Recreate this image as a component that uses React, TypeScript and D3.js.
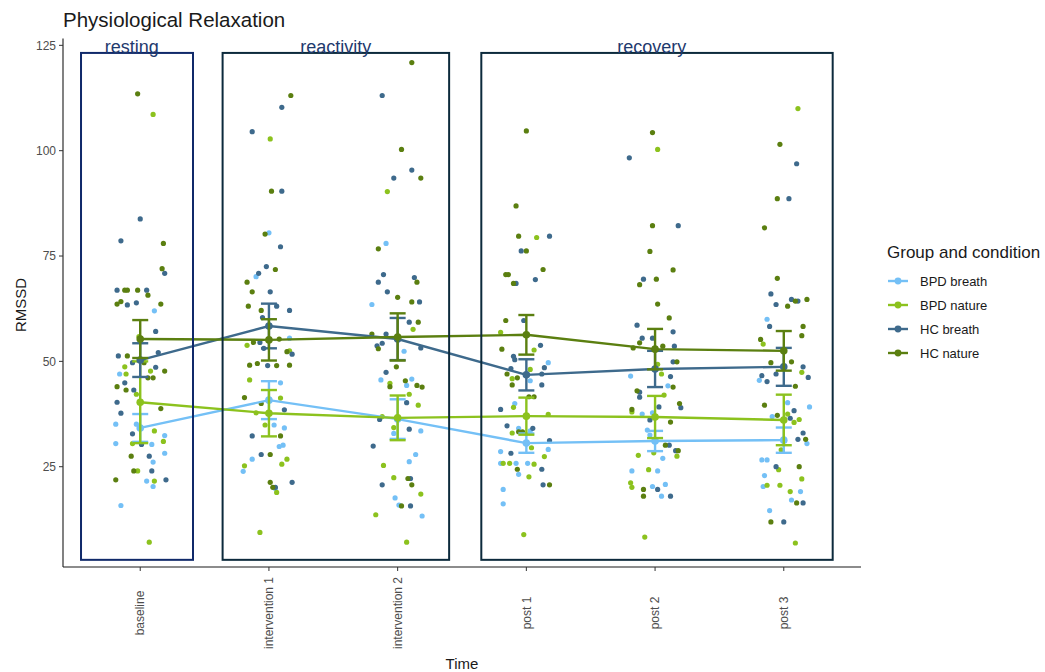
import React from 'react';
import * as d3 from 'd3';

// time points on the x axis
const times = ['baseline', 'intervention 1', 'intervention 2', 'post 1', 'post 2', 'post 3'];
const yTicks = [25, 50, 75, 100, 125];

const groupNames = ['BPD breath', 'BPD nature', 'HC breath', 'HC nature'];
const groupColors = ['#74c0f6', '#8cc21e', '#3e6a8c', '#5b7f10'];

// jittered raw values: [time index, jitter (band units), RMSSD]
const bpdBreathPts = [
  [0, 0.11, 62], [0, -0.16, 47], [0, -0.19, 35.1], [0, -0.03, 35.1], [0, 0.19, 32.4], [0, -0.19, 30.5], [0, 0.09, 30.3], [0, 0.19, 28.2], [0, 0.1, 26.1], [0, 0.05, 21.6], [0, 0.1, 20.3], [0, -0.15, 15.8],
  [1, 0.0, 80.5], [1, -0.1, 70.1], [1, 0.16, 55.5], [1, 0.09, 44.9], [1, 0.04, 34.9], [1, 0.12, 34.2], [1, 0.08, 29.8], [1, 0.11, 30.1], [1, -0.13, 26.8], [1, -0.2, 23.9], [1, 0.05, 19.8],
  [2, -0.09, 78], [2, -0.2, 63.5], [2, 0.05, 52.4], [2, -0.13, 45.6], [2, 0.11, 45.8], [2, 0.07, 44.3], [2, -0.03, 32.9], [2, 0.18, 33.5], [2, 0.14, 27.9], [2, 0.09, 26.2], [2, -0.02, 17.6], [2, 0.01, 15.9], [2, 0.19, 13.3],
  [3, 0.17, 49.7], [3, 0.03, 45.4], [3, -0.09, 40], [3, -0.06, 34.1], [3, 0.03, 33.5], [3, 0.17, 29.1], [3, -0.2, 28.6], [3, -0.2, 25.8], [3, -0.08, 25.8], [3, 0.01, 25.8], [3, -0.06, 23.2], [3, -0.18, 19.6], [3, -0.18, 16.2],
  [4, -0.19, 46.5], [4, 0.1, 44.2], [4, -0.1, 37.5], [4, -0.02, 37.8], [4, -0.06, 33.7], [4, -0.04, 32.5], [4, 0.06, 27], [4, -0.18, 24], [4, 0.02, 24], [4, -0.02, 20.3], [4, 0.08, 20.8], [4, 0.05, 18],
  [5, -0.13, 60], [5, -0.19, 45.5], [5, 0.03, 40.2], [5, 0.2, 39.2], [5, -0.09, 36.9], [5, 0.18, 30.5], [5, -0.17, 26.6], [5, -0.13, 26.6], [5, -0.15, 22.9], [5, -0.16, 20.3], [5, 0.13, 19.1], [5, 0.06, 17.1], [5, -0.11, 14.6],
];
const bpdNaturePts = [
  [0, 0.1, 108.6], [0, -0.01, 55.9], [0, -0.12, 48.7], [0, -0.11, 47], [0, 0.08, 47.7], [0, -0.03, 42.2], [0, 0.11, 33.5], [0, 0.18, 31], [0, -0.06, 30.5], [0, -0.02, 24], [0, 0.11, 21.6], [0, 0.07, 7.1],
  [1, 0.01, 102.8], [1, -0.17, 53.8], [1, 0.16, 52.5], [1, -0.15, 45.6], [1, 0.09, 41.3], [1, -0.1, 37.8], [1, -0.03, 34.9], [1, 0.14, 26.8], [1, 0.1, 25.6], [1, -0.19, 25.2], [1, 0.06, 18.9], [1, -0.07, 9.4],
  [2, -0.08, 90.3], [2, 0.12, 57.6], [2, -0.06, 44.8], [2, 0.09, 42.2], [2, 0.16, 39.6], [2, -0.12, 36.9], [2, -0.03, 34.3], [2, -0.11, 25.3], [2, -0.03, 22.4], [2, 0.18, 18.5], [2, -0.17, 13.6], [2, 0.07, 7.1],
  [3, 0.08, 79.4], [3, -0.2, 56.9], [3, 0.06, 52.7], [3, 0.03, 48.1], [3, -0.11, 45.9], [3, -0.1, 39.1], [3, 0.17, 37.4], [3, -0.11, 33], [3, 0.04, 29.5], [3, 0.14, 27.4], [3, -0.18, 25.8], [3, -0.13, 25.8], [3, 0.06, 25.6], [3, 0.02, 22.6], [3, -0.02, 8.9],
  [4, 0.02, 100.3], [4, 0.02, 49.3], [4, 0.05, 47], [4, 0.07, 42], [4, -0.18, 38], [4, 0.17, 27.5], [4, -0.13, 27.7], [4, -0.01, 28.3], [4, -0.05, 24.3], [4, -0.19, 21.2], [4, -0.18, 20.1], [4, -0.08, 8.3],
  [5, 0.11, 110], [5, -0.16, 54.1], [5, 0.14, 47.4], [5, 0.03, 37.5], [5, 0.08, 35.5], [5, 0.12, 36.2], [5, -0.02, 29], [5, -0.04, 24.3], [5, 0.14, 22.1], [5, -0.13, 20.6], [5, -0.03, 20.6], [5, 0.05, 19.1], [5, 0.09, 6.9],
];
const hcBreathPts = [
  [0, 0.0, 83.8], [0, -0.15, 78.6], [0, 0.19, 70.9], [0, -0.18, 66.9], [0, 0.05, 66.9], [0, -0.1, 63.4], [0, -0.03, 63.9], [0, 0.12, 57.1], [0, -0.17, 51.3], [0, 0.14, 52.1], [0, -0.06, 49.7], [0, 0.12, 48.6], [0, -0.12, 44.9], [0, -0.05, 43.2], [0, -0.18, 40.3], [0, -0.15, 37.7], [0, -0.06, 32.8], [0, 0.01, 30.3], [0, 0.07, 27.5], [0, 0.09, 24], [0, 0.2, 21.9],
  [1, 0.1, 110.3], [1, -0.13, 104.5], [1, 0.1, 90.4], [1, 0.09, 77.2], [1, -0.02, 72.5], [1, -0.08, 70.9], [1, 0.01, 66.5], [1, 0.06, 63.1], [1, 0.16, 62.1], [1, -0.05, 60.4], [1, -0.07, 54.5], [1, -0.04, 53.1], [1, 0.18, 51.7], [1, -0.01, 49], [1, 0.12, 38.5], [1, -0.13, 32.3], [1, -0.06, 27.9], [1, 0.18, 21.3], [1, 0.05, 20.1],
  [2, -0.12, 113.1], [2, 0.11, 95.4], [2, -0.03, 93.5], [2, -0.11, 70.6], [2, -0.15, 68.8], [2, 0.13, 69.9], [2, -0.08, 66.5], [2, 0.17, 64.1], [2, 0.09, 59.3], [2, -0.09, 56.5], [2, -0.16, 53.7], [2, -0.12, 54.3], [2, 0.18, 53.2], [2, -0.09, 47.4], [2, 0.07, 40.2], [2, -0.14, 36.2], [2, 0.09, 33.9], [2, -0.19, 29.9], [2, 0.1, 22.2], [2, -0.12, 20.7], [2, 0.1, 15.7],
  [3, 0.18, 79.7], [3, -0.04, 76.2], [3, -0.08, 68.5], [3, 0.07, 69.4], [3, -0.02, 59.7], [3, 0.11, 53.8], [3, -0.1, 51.2], [3, -0.09, 50.4], [3, 0.14, 48.5], [3, -0.12, 48.3], [3, 0.12, 47], [3, 0.12, 44.4], [3, -0.2, 38.6], [3, -0.15, 34.7], [3, 0.05, 34.1], [3, 0.18, 31.2], [3, -0.12, 28.2], [3, 0.12, 24.4], [3, 0.13, 20.7],
  [4, -0.2, 98.3], [4, 0.18, 82.2], [4, -0.09, 69.5], [4, -0.14, 58.6], [4, 0.14, 57], [4, -0.1, 55.5], [4, -0.02, 55.5], [4, 0.15, 53.6], [4, 0.14, 49.9], [4, 0.12, 46.4], [4, -0.12, 42.7], [4, -0.12, 41.5], [4, 0.2, 39], [4, 0.03, 39.2], [4, -0.04, 36.1], [4, 0.11, 30.1], [4, 0.16, 28.8], [4, 0.02, 19.6], [4, 0.12, 18],
  [5, 0.1, 96.9], [5, 0.04, 88.6], [5, -0.1, 66], [5, -0.06, 63.5], [5, 0.06, 64.7], [5, 0.11, 64.3], [5, -0.11, 58.3], [5, 0.15, 48.7], [5, -0.17, 46.6], [5, -0.06, 47], [5, -0.13, 45.2], [5, 0.19, 46.2], [5, 0.08, 38.3], [5, 0.05, 36.5], [5, 0.15, 33], [5, 0.11, 31.5], [5, -0.06, 25], [5, 0.15, 16.4], [5, 0.0, 11.9],
];
const hcNaturePts = [
  [0, -0.02, 113.5], [0, 0.18, 78], [0, 0.17, 72], [0, -0.12, 66.9], [0, -0.1, 66.9], [0, -0.02, 66.9], [0, 0.06, 65.7], [0, -0.18, 63.6], [0, -0.15, 64.2], [0, 0.16, 63.6], [0, -0.1, 51.3], [0, 0.03, 49.7], [0, 0.19, 47.7], [0, 0.06, 46.1], [0, 0.1, 46.1], [0, -0.18, 44], [0, -0.11, 43.2], [0, 0.16, 38.8], [0, -0.07, 27.5], [0, -0.05, 24], [0, -0.19, 21.9],
  [1, 0.17, 113.1], [1, 0.02, 90.4], [1, -0.03, 80.2], [1, 0.05, 71.8], [1, -0.17, 68.8], [1, -0.13, 66.5], [1, -0.16, 63.1], [1, -0.06, 62.1], [1, -0.12, 54.5], [1, 0.08, 55.3], [1, 0.14, 52.3], [1, -0.15, 49.1], [1, -0.09, 49.5], [1, 0.06, 49], [1, 0.16, 49.1], [1, -0.19, 41.4], [1, -0.06, 40], [1, 0.09, 32.3], [1, 0.01, 27.9], [1, 0.01, 21.3], [1, 0.03, 20.1],
  [2, 0.11, 120.9], [2, 0.03, 100.3], [2, 0.18, 93.5], [2, -0.15, 76.7], [2, 0.15, 68.8], [2, 0.0, 65.2], [2, 0.11, 64.1], [2, 0.16, 59.3], [2, -0.2, 56.5], [2, -0.15, 53], [2, -0.01, 48.7], [2, -0.06, 44], [2, 0.06, 45.4], [2, 0.15, 44.3], [2, 0.19, 43.9], [2, 0.08, 22.2], [2, 0.11, 20.7], [2, 0.03, 15.7],
  [3, 0.0, 104.7], [3, -0.08, 86.9], [3, -0.06, 79.7], [3, 0.0, 76.2], [3, -0.16, 70.6], [3, -0.14, 70.6], [3, -0.1, 68.5], [3, 0.13, 71.8], [3, -0.16, 59.7], [3, -0.19, 52.9], [3, -0.15, 47], [3, -0.07, 46.1], [3, -0.11, 44.4], [3, 0.06, 41.6], [3, 0.02, 41.6], [3, -0.06, 33.3], [3, -0.03, 33.3], [3, -0.07, 24.4], [3, 0.18, 20.7],
  [4, -0.02, 104.3], [4, -0.02, 82.2], [4, -0.04, 76.1], [4, 0.14, 71.7], [4, 0.01, 69.5], [4, -0.12, 68.2], [4, 0.02, 63.6], [4, 0.11, 60.3], [4, -0.12, 54.4], [4, -0.17, 53.2], [4, 0.06, 53.6], [4, 0.17, 49.9], [4, 0.14, 43.9], [4, -0.14, 43], [4, 0.19, 40], [4, -0.18, 38.6], [4, 0.12, 35.6], [4, 0.08, 30.1], [4, 0.18, 28.8], [4, -0.09, 19.6], [4, -0.09, 18],
  [5, -0.03, 101.5], [5, -0.05, 88.6], [5, -0.15, 81.7], [5, -0.05, 69.7], [5, 0.09, 64.3], [5, 0.18, 64.7], [5, 0.03, 63.1], [5, 0.15, 58.3], [5, 0.14, 56.1], [5, -0.18, 55.2], [5, -0.1, 49.7], [5, 0.06, 49.9], [5, 0.09, 44.1], [5, -0.15, 39.6], [5, -0.05, 37.2], [5, 0.17, 31.5], [5, 0.12, 25], [5, 0.1, 16.4], [5, -0.1, 11.9],
];

// group means and standard errors per time point
const bpdBreathMean = [34.2, 40.8, 36.3, 30.6, 31.1, 31.3];
const bpdBreathSe = [3.3, 4.5, 4.7, 2.3, 2.4, 3.0];
const bpdNatureMean = [40.3, 37.7, 36.6, 37.0, 36.8, 36.1];
const bpdNatureSe = [9.7, 5.5, 5.3, 4.4, 5.0, 6.0];
const hcBreathMean = [50.3, 58.4, 55.3, 46.8, 48.2, 48.7];
const hcBreathSe = [4.0, 5.3, 5.0, 3.7, 4.3, 4.5];
const hcNatureMean = [55.3, 55.1, 55.8, 56.3, 52.9, 52.5];
const hcNatureSe = [4.5, 4.9, 5.6, 4.7, 4.8, 4.7];

// phase boxes: label, first/last time index with padding (band units), top/bottom value
const phaseNames = ['resting', 'reactivity', 'recovery'];
const phaseFrom = [[0, -0.46], [1, -0.36], [3, -0.35]];
const phaseTo = [[0, 0.41], [2, 0.4], [5, 0.38]];
const phaseLabelAt = [-0.04, 0.0, -0.04]; // label centre shift in band units
const phaseColors = ['#10296a', '#0c2a3c', '#0c2a3c'];
const phaseTop = 123.2;
const phaseBottom = 2.9;

const groups = [
  { pts: bpdBreathPts, mean: bpdBreathMean, se: bpdBreathSe },
  { pts: bpdNaturePts, mean: bpdNatureMean, se: bpdNatureSe },
  { pts: hcBreathPts, mean: hcBreathMean, se: hcBreathSe },
  { pts: hcNaturePts, mean: hcNatureMean, se: hcNatureSe },
];

const FONT = '"Liberation Sans", Arial, sans-serif';

export default function App() {
  const W = 1045, H = 672;
  const left = 63, right = 861, top = 38.6, bottom = 567;

  const xi = d3.scaleLinear().domain([-0.6, times.length - 0.4]).range([left, right]);
  const y = d3.scaleLinear().domain([1.2, 126.6]).range([bottom, top]);
  const line = d3.line<number>().x((_, i) => xi(i)).y(d => y(d));
  const band = xi(1) - xi(0);

  return (
    <svg width={W} height={H} style={{ position: 'absolute', left: 0, top: 0, background: '#fff' }} fontFamily={FONT}>
      <rect width={W} height={H} fill="#fff" />
      <text x={63} y={27} fontSize={20.5} fill="#1a1a1a">Physiological Relaxation</text>

      {/* jittered raw points */}
      {groups.map((g, gi) => (
        <g key={'p' + gi} fill={groupColors[gi]}>
          {g.pts.map((p, k) => (
            <circle key={k} cx={xi(p[0] + p[1])} cy={y(p[2])} r={2.6} />
          ))}
        </g>
      ))}

      {/* mean lines, error bars and mean points */}
      {groups.map((g, gi) => (
        <g key={'m' + gi} stroke={groupColors[gi]} fill={groupColors[gi]}>
          <path d={line(g.mean) || ''} fill="none" strokeWidth={2.4} />
          {g.mean.map((m, i) => {
            const cx = xi(i);
            const y0 = y(m - g.se[i]);
            const y1 = y(m + g.se[i]);
            return (
              <g key={i} strokeWidth={2.4}>
                <line x1={cx} x2={cx} y1={y0} y2={y1} />
                <line x1={cx - 8} x2={cx + 8} y1={y0} y2={y0} />
                <line x1={cx - 8} x2={cx + 8} y1={y1} y2={y1} />
                <circle cx={cx} cy={y(m)} r={3.8} stroke="none" />
              </g>
            );
          })}
        </g>
      ))}

      {/* axes */}
      <line x1={left} x2={left} y1={top} y2={bottom} stroke="#1a1a1a" strokeWidth={1.1} />
      <line x1={left} x2={right} y1={bottom} y2={bottom} stroke="#1a1a1a" strokeWidth={1.1} />
      {yTicks.map(t => (
        <g key={t}>
          <line x1={left - 4} x2={left} y1={y(t)} y2={y(t)} stroke="#333" />
          <text x={left - 7} y={y(t)} dy="0.35em" textAnchor="end" fontSize={12} fill="#4d4d4d">{t}</text>
        </g>
      ))}
      {times.map((t, i) => (
        <g key={t}>
          <line x1={xi(i)} x2={xi(i)} y1={bottom} y2={bottom + 4} stroke="#333" />
          <text transform={`translate(${xi(i)},613) rotate(-90)`} dy="0.35em" textAnchor="middle" fontSize={12} fill="#4d4d4d">{t}</text>
        </g>
      ))}
      <text transform="translate(21,305) rotate(-90)" dy="0.35em" textAnchor="middle" fontSize={15} fill="#1a1a1a">RMSSD</text>
      <text x={462} y={669} textAnchor="middle" fontSize={15} fill="#1a1a1a">Time</text>

      {/* phase boxes */}
      {phaseNames.map((name, i) => {
        const x0 = xi(phaseFrom[i][0] + phaseFrom[i][1]);
        const x1 = xi(phaseTo[i][0] + phaseTo[i][1]);
        return (
          <g key={name}>
            <rect x={x0} y={y(phaseTop)} width={x1 - x0} height={y(phaseBottom) - y(phaseTop)} fill="none" stroke={phaseColors[i]} strokeWidth={2} />
            <text x={(x0 + x1) / 2 + phaseLabelAt[i] * band} y={y(phaseTop) + 0.5} textAnchor="middle" fontSize={18} fill="#1f3a6e">{name}</text>
          </g>
        );
      })}

      {/* legend */}
      <text x={887} y={258} fontSize={17} fill="#1a1a1a">Group and condition</text>
      {groupNames.map((n, i) => (
        <g key={n} transform={`translate(888,${281 + i * 24})`}>
          <line x1={0} x2={20} y1={0} y2={0} stroke={groupColors[i]} strokeWidth={2.4} />
          <circle cx={10} cy={0} r={3.4} fill={groupColors[i]} />
          <text x={32} y={0} dy="0.35em" fontSize={13} fill="#1a1a1a">{n}</text>
        </g>
      ))}
    </svg>
  );
}
